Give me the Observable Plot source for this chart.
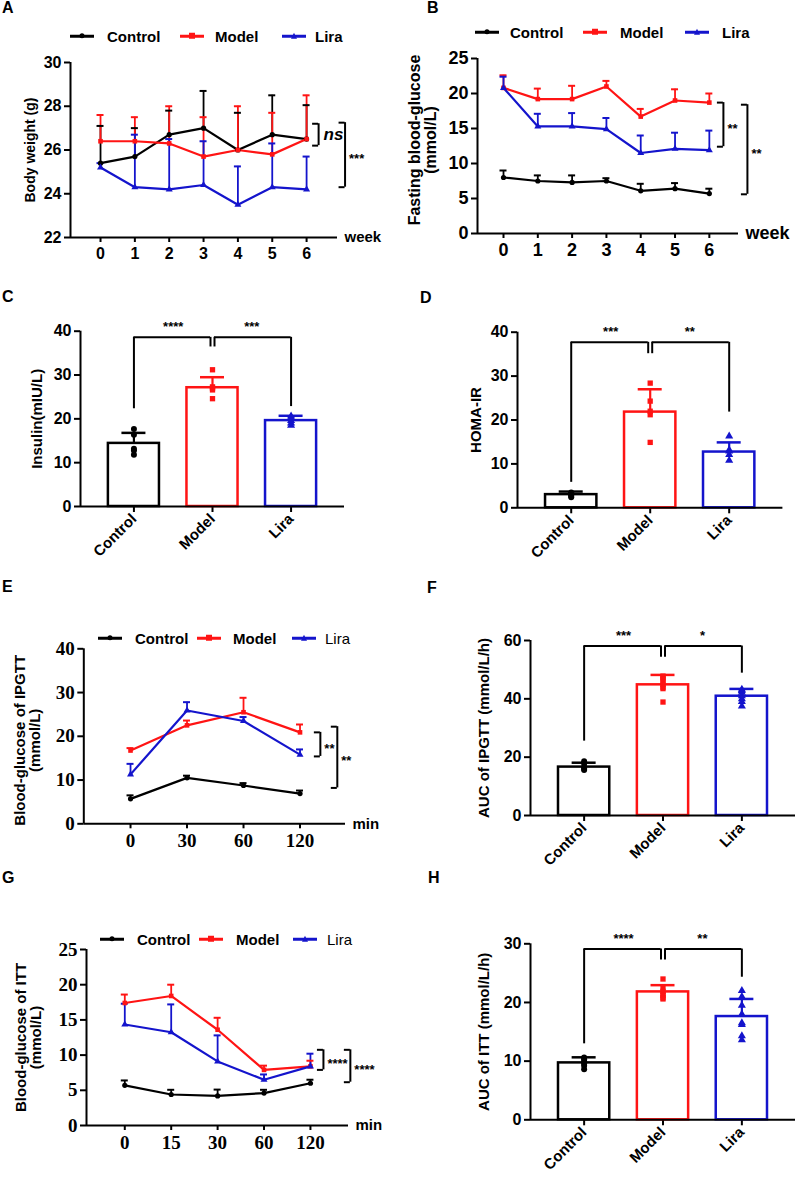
<!DOCTYPE html>
<html><head><meta charset="utf-8">
<script src="https://cdn.jsdelivr.net/npm/d3@7"></script>
<script src="https://cdn.jsdelivr.net/npm/@observablehq/plot@0.6"></script>
<style>
body{margin:0;background:#fff;}
#fig{position:relative;width:797px;height:1182px;overflow:hidden;font-family:"Liberation Sans",Arial,sans-serif;color:#000;}
.panel{position:absolute;}
.plab{position:absolute;font-weight:bold;font-size:16px;line-height:1;}
.legtxt{position:absolute;font-size:15px;line-height:1;white-space:nowrap;transform:translateY(-50%);}
.sw{position:absolute;height:2.5px;transform:translateY(-50%);}
.mk{position:absolute;left:50%;top:50%;transform:translate(-50%,-50%);}
</style></head>
<body><div id="fig"></div>
<script>
// ---------- shared ----------
const groups = ["Control", "Model", "Lira"];
const colors = ["#000000", "#ff1414", "#1414cc"];
const symbols = ["circle", "square", "triangle"];

// ---------- A: body weight ----------
const weeks = [0, 1, 2, 3, 4, 5, 6];
const weightControl = [25.4, 25.7, 26.7, 27.0, 26.0, 26.7, 26.5];
const weightControlSD = [1.7, 1.3, 1.1, 1.7, 1.7, 1.8, 1.55];
const weightModel = [26.4, 26.4, 26.3, 25.7, 26.0, 25.8, 26.5];
const weightModelSD = [1.2, 1.1, 1.7, 1.8, 2.0, 1.9, 2.0];
const weightLira = [25.2, 24.3, 24.2, 24.4, 23.5, 24.3, 24.2];
const weightLiraSD = [0.2, 2.4, 2.3, 2.0, 1.75, 2.0, 1.5];
const sigA = [
  {x: 6.35, y1: 26.2, y2: 27.2, label: "ns"},
  {x: 7.12, y1: 24.3, y2: 27.25, label: "***"}
];

// ---------- B: fasting blood glucose ----------
const fbgControl = [8.0, 7.5, 7.3, 7.5, 6.1, 6.4, 5.7];
const fbgControlSD = [1.0, 0.8, 1.0, 0.4, 1.0, 0.8, 0.7];
const fbgModel = [20.8, 19.2, 19.2, 21.0, 16.7, 19.0, 18.7];
const fbgModelSD = [1.8, 1.5, 1.9, 0.8, 1.1, 1.6, 1.3];
const fbgLira = [20.8, 15.3, 15.3, 14.9, 11.5, 12.1, 11.9];
const fbgLiraSD = [1.6, 1.8, 1.9, 1.6, 2.5, 2.3, 2.8];
const sigB = [
  {x: 6.41, y1: 12.4, y2: 18.7, label: "**"},
  {x: 7.11, y1: 5.6, y2: 18.4, label: "**"}
];

// ---------- C: insulin ----------
const insulinMean = [14.4, 27.1, 19.6];
const insulinSD = [2.4, 2.4, 1.1];
const insulinPoints = [[17.7, 16.4, 13.2, 12.8, 11.8], [31.2, 27.3, 27.0, 26.6, 24.6], [20.6, 20.2, 19.6, 19.0, 18.5]];
const sigC = [
  {from: 0, to: 1, y: 38.6, yFrom: 22.3, yTo: 36.4, label: "****"},
  {from: 1, to: 2, y: 38.6, yFrom: 36.4, yTo: 22.8, label: "***"}
];

// ---------- D: HOMA-IR ----------
const homaMean = [3.0, 21.8, 12.7];
const homaSD = [0.7, 5.2, 2.2];
const homaPoints = [[3.5, 3.3, 3.0, 2.7, 2.4], [28.4, 24.3, 22.0, 21.2, 14.9], [16.3, 13.2, 12.9, 12.1, 10.8]];
const sigD = [
  {from: 0, to: 1, y: 37.7, yFrom: 5.8, yTo: 35.1, label: "***"},
  {from: 1, to: 2, y: 37.7, yFrom: 35.1, yTo: 21.8, label: "**"}
];

// ---------- E: IPGTT ----------
const ipgttTimes = ["0", "30", "60", "120"];
const ipgttControl = [5.7, 10.5, 8.75, 6.9];
const ipgttControlSD = [0.8, 0.5, 0.55, 0.7];
const ipgttModel = [16.75, 22.5, 25.5, 20.9];
const ipgttModelSD = [0.55, 1.1, 3.3, 1.8];
const ipgttLira = [11.3, 25.9, 23.5, 15.8];
const ipgttLiraSD = [2.4, 1.9, 0.9, 1.2];
const sigE = [
  {x: 3.36, y1: 15.4, y2: 20.9, label: "**"},
  {x: 3.66, y1: 8.2, y2: 22.2, label: "**"}
];

// ---------- F: AUC IPGTT ----------
const aucIpgttMean = [16.6, 44.8, 40.9];
const aucIpgttSD = [1.5, 3.4, 2.5];
const aucIpgttPoints = [[18.6, 17.8, 16.6, 16.0, 15.6], [47.8, 47.3, 46.8, 45.8, 45.0, 44.0, 43.5, 38.9], [43.2, 42.8, 42.2, 41.0, 40.0, 39.0, 37.5]];
const sigF = [
  {from: 0, to: 1, y: 58.1, yFrom: 25.5, yTo: 54.3, label: "***"},
  {from: 1, to: 2, y: 58.1, yFrom: 54.3, yTo: 48.8, label: "*"}
];

// ---------- G: ITT ----------
const ittTimes = ["0", "15", "30", "60", "120"];
const ittControl = [5.7, 4.4, 4.2, 4.6, 6.0];
const ittControlSD = [0.7, 0.67, 0.9, 0.47, 0.5];
const ittModel = [17.4, 18.4, 13.6, 7.9, 8.4];
const ittModelSD = [1.2, 1.6, 1.7, 0.6, 0.8];
const ittLira = [14.35, 13.25, 9.1, 6.5, 8.4];
const ittLiraSD = [2.95, 3.95, 3.7, 0.75, 1.8];
const sigG = [
  {x: 4.28, y1: 7.9, y2: 10.75, label: "****"},
  {x: 4.86, y1: 6.15, y2: 10.75, label: "****"}
];

// ---------- H: AUC ITT ----------
const aucIttMean = [9.7, 21.8, 17.6];
const aucIttSD = [0.95, 1.15, 3.0];
const aucIttPoints = [[10.6, 10.3, 10.0, 9.6, 9.2, 8.6], [24.0, 22.5, 21.9, 21.5, 21.2, 20.8, 20.6], [22.0, 21.0, 19.5, 18.0, 16.5, 16.2, 14.3, 13.6]];
const sigH = [
  {from: 0, to: 1, y: 29.1, yFrom: 12.95, yTo: 27.25, label: "****"},
  {from: 1, to: 2, y: 29.1, yFrom: 27.25, yTo: 24.3, label: "**"}
];

// ================= drawing =================
const fig = document.getElementById("fig");
const SANS = "Liberation Sans, Arial, sans-serif";
const SERIF = "Liberation Serif, Times New Roman, serif";

function place(node, left, top) {
  const d = document.createElement("div");
  d.className = "panel";
  d.style.left = left + "px";
  d.style.top = top + "px";
  d.appendChild(node);
  fig.appendChild(d);
}

function seriesRows(xs, list) {
  return list.flatMap(([name, m, s]) => xs.map((x, i) => ({series: name, x, y: m[i], up: m[i] + s[i]})));
}

function linePanel(p) {
  const rows = seriesRows(p.xs, p.series);
  const br = p.sig;
  const marks = [
    Plot.ruleX([p.xDomain[0]], {stroke: "#000", strokeWidth: 2}),
    Plot.ruleY([p.yDomain[0]], {stroke: "#000", strokeWidth: 2}),
    Plot.axisY({ticks: p.yTicks, tickSize: 6, tickPadding: 3, strokeWidth: 2, fontSize: p.tickFont, fontFamily: p.tickFamily, fontWeight: "bold", label: null}),
    Plot.axisX({ticks: p.xs, tickFormat: p.xFormat, tickSize: 5, tickPadding: 5, strokeWidth: 2, fontSize: p.tickFont, fontFamily: p.tickFamily, fontWeight: "bold", label: null}),
    Plot.ruleX(rows, {x: "x", y1: "y", y2: "up", stroke: "series", strokeWidth: 1.8}),
    Plot.ruleY(rows, {y: "up", x1: "x", x2: "x", insetLeft: -3.5, insetRight: -3.5, stroke: "series", strokeWidth: 2}),
    Plot.line(rows, {x: "x", y: "y", stroke: "series", strokeWidth: 2.2}),
    Plot.dot(rows, {x: "x", y: "y", symbol: "series", fill: "series", r: 2.6}),
    // significance brackets
    Plot.ruleX(br, {x: "x", y1: "y1", y2: "y2", stroke: "#000", strokeWidth: 2}),
    Plot.ruleY(br, {y: "y1", x1: "x", x2: "x", insetLeft: -6, stroke: "#000", strokeWidth: 2}),
    Plot.ruleY(br, {y: "y2", x1: "x", x2: "x", insetLeft: -6, stroke: "#000", strokeWidth: 2}),
    Plot.text(br.filter(d => d.label !== "ns"), {x: "x", y: d => (d.y1 + d.y2) / 2, text: "label", dx: 4, dy: 4, textAnchor: "start", fontSize: 13, fontWeight: "bold"}),
    Plot.text(br.filter(d => d.label === "ns"), {x: "x", y: d => (d.y1 + d.y2) / 2, text: "label", dx: 5, dy: 0, textAnchor: "start", fontSize: 17, fontWeight: "bold", fontStyle: "italic"}),
    Plot.text([p.xUnit], {frameAnchor: "bottom-right", dx: 7, dy: 0, textAnchor: "start", lineAnchor: "middle", fontSize: p.unitFont, fontWeight: "bold", fontFamily: SANS}),
    Plot.text([p.yLabel], {frameAnchor: "left", rotate: -90, dx: p.yLabelDx, dy: p.yLabelDy || 0, textAnchor: "middle", lineAnchor: "middle", fontSize: p.yLabelFont, fontWeight: "bold", fontFamily: SANS})
  ];
  return Plot.plot({
    width: p.width, height: p.height,
    marginLeft: p.m[0], marginRight: p.m[1], marginTop: p.m[2], marginBottom: p.m[3],
    x: {type: "linear", domain: p.xDomain},
    y: {domain: p.yDomain},
    color: {domain: groups, range: colors},
    symbol: {domain: groups, range: symbols},
    style: {fontFamily: SANS, fontWeight: "bold", color: "#000", background: "transparent", overflow: "visible"},
    marks
  });
}

function barPanel(p) {
  const bars = groups.map((g, i) => ({i, group: g, mean: p.means[i], up: p.means[i] + p.sds[i]}));
  const pts = p.points.flatMap((vals, i) => vals.map(v => ({i, group: groups[i], v})));
  const s0 = p.sig.filter((d, k) => k === 0);
  const s1 = p.sig.filter((d, k) => k === 1);
  const halfW = 0.325;
  const marks = [
    Plot.axisY({ticks: p.yTicks, tickSize: 6, tickPadding: 3, strokeWidth: 2, fontSize: 16, fontWeight: "bold", label: null}),
    Plot.axisX({ticks: [0, 1, 2], tickFormat: i => groups[i], tickRotate: -45, tickSize: 6, tickPadding: 4, strokeWidth: 2, fontSize: 15, fontWeight: "bold", label: null}),
    Plot.rect(bars, {x1: d => d.i - halfW, x2: d => d.i + halfW, y1: 0, y2: "mean", fill: "white", stroke: "group", strokeWidth: 2.5}),
    Plot.ruleX(bars, {x: "i", y1: "mean", y2: "up", stroke: "group", strokeWidth: 2.2}),
    Plot.ruleY(bars, {y: "up", x1: "i", x2: "i", insetLeft: -12, insetRight: -12, stroke: "group", strokeWidth: 2.5}),
    Plot.dot(pts, {x: "i", y: "v", symbol: "group", fill: "group", r: 3}),
    Plot.ruleX([p.xDomain[0]], {stroke: "#000", strokeWidth: 2}),
    Plot.ruleY([0], {stroke: "#000", strokeWidth: 2}),
    // brackets
    Plot.ruleY(s0, {y: "y", x1: "from", x2: "to", insetRight: 2, stroke: "#000", strokeWidth: 2}),
    Plot.ruleY(s1, {y: "y", x1: "from", x2: "to", insetLeft: 2, stroke: "#000", strokeWidth: 2}),
    Plot.ruleX(s0, {x: "from", y1: "yFrom", y2: "y", stroke: "#000", strokeWidth: 2}),
    Plot.ruleX(s0, {x: "to", y1: "yTo", y2: "y", dx: -2, stroke: "#000", strokeWidth: 2}),
    Plot.ruleX(s1, {x: "from", y1: "yFrom", y2: "y", dx: 2, stroke: "#000", strokeWidth: 2}),
    Plot.ruleX(s1, {x: "to", y1: "yTo", y2: "y", stroke: "#000", strokeWidth: 2}),
    Plot.text(p.sig, {x: d => (d.from + d.to) / 2, y: "y", text: "label", dy: -6, lineAnchor: "bottom", fontSize: 13, fontWeight: "bold"}),
    Plot.text([p.yLabel], {frameAnchor: "left", rotate: -90, dx: p.yLabelDx, textAnchor: "middle", lineAnchor: "middle", fontSize: 15, fontWeight: "bold"})
  ];
  return Plot.plot({
    width: p.width, height: p.height,
    marginLeft: p.m[0], marginRight: p.m[1], marginTop: p.m[2], marginBottom: p.m[3],
    x: {type: "linear", domain: p.xDomain},
    y: {domain: p.yDomain},
    color: {domain: groups, range: colors},
    symbol: {domain: groups, range: symbols},
    style: {fontFamily: SANS, fontWeight: "bold", color: "#000", background: "transparent", overflow: "visible"},
    marks
  });
}

function legend(y, swX, txX, boldFlags) {
  groups.forEach((g, i) => {
    const sw = document.createElement("div");
    sw.className = "sw";
    sw.style.left = swX[i] + "px";
    sw.style.top = y + "px";
    sw.style.width = "24px";
    sw.style.background = colors[i];
    const mk = document.createElement("div");
    mk.className = "mk";
    if (symbols[i] === "circle") { mk.style.cssText += `width:5px;height:5px;border-radius:50%;background:${colors[i]};`; }
    else if (symbols[i] === "square") { mk.style.cssText += `width:6px;height:6px;background:${colors[i]};`; }
    else { mk.style.cssText += `width:0;height:0;border-left:3.5px solid transparent;border-right:3.5px solid transparent;border-bottom:6px solid ${colors[i]};`; }
    sw.appendChild(mk);
    fig.appendChild(sw);
    const t = document.createElement("div");
    t.className = "legtxt";
    t.style.left = txX[i] + "px";
    t.style.top = y + "px";
    t.style.fontWeight = boldFlags[i] ? "bold" : "normal";
    t.textContent = g;
    fig.appendChild(t);
  });
}

function letter(ch, x, y) {
  const d = document.createElement("div");
  d.className = "plab";
  d.style.left = x + "px";
  d.style.top = y + "px";
  d.textContent = ch;
  fig.appendChild(d);
}

// ---- A ----
place(linePanel({
  width: 400, height: 240, m: [70, 63, 17, 48],
  xs: weeks, xFormat: d => String(d), xDomain: [-0.874, 6.9],
  yDomain: [22, 30], yTicks: [22, 24, 26, 28, 30],
  series: [["Control", weightControl, weightControlSD], ["Model", weightModel, weightModelSD], ["Lira", weightLira, weightLiraSD]],
  sig: sigA, xUnit: "week", unitFont: 15, tickFont: 16, tickFamily: SANS,
  yLabel: "Body weight (g)", yLabelDx: -40, yLabelFont: 14
}), 0, 45);

// ---- B ----
place(linePanel({
  width: 397, height: 245, m: [77, 59, 18, 52],
  xs: weeks, xFormat: d => String(d), xDomain: [-0.758, 6.85],
  yDomain: [0, 25], yTicks: [0, 5, 10, 15, 20, 25],
  series: [["Control", fbgControl, fbgControlSD], ["Model", fbgModel, fbgModelSD], ["Lira", fbgLira, fbgLiraSD]],
  sig: sigB, xUnit: "week", unitFont: 18, tickFont: 18, tickFamily: SANS,
  yLabel: "Fasting blood-glucose\n(mmol/L)", yLabelDx: -55, yLabelDy: -6, yLabelFont: 16
}), 400, 40);

// ---- C ----
place(barPanel({
  width: 400, height: 285, m: [80, 56, 30.7, 79],
  xDomain: [-0.68, 2.68], yDomain: [0, 40], yTicks: [0, 10, 20, 30, 40],
  means: insulinMean, sds: insulinSD, points: insulinPoints, sig: sigC,
  yLabel: "Insulin(mIU/L)", yLabelDx: -43
}), 0, 300);

// ---- D ----
place(barPanel({
  width: 397, height: 285, m: [117, 14.6, 31.7, 77.7],
  xDomain: [-0.68, 2.68], yDomain: [0, 40], yTicks: [0, 10, 20, 30, 40],
  means: homaMean, sds: homaSD, points: homaPoints, sig: sigD,
  yLabel: "HOMA-IR", yLabelDx: -41
}), 400, 300);

// ---- E ----
place(linePanel({
  width: 400, height: 250, m: [83.3, 55, 28.3, 46.7],
  xs: [0, 1, 2, 3], xFormat: i => ipgttTimes[i], xDomain: [-0.827, 3.805],
  yDomain: [0, 40], yTicks: [0, 10, 20, 30, 40],
  series: [["Control", ipgttControl, ipgttControlSD], ["Model", ipgttModel, ipgttModelSD], ["Lira", ipgttLira, ipgttLiraSD]],
  sig: sigE, xUnit: "min", unitFont: 15, tickFont: 19, tickFamily: SERIF,
  yLabel: "Blood-glucose of IPGTT\n(mmol/L)", yLabelDx: -56, yLabelDy: 4, yLabelFont: 15
}), 0, 620);

// ---- F ----
place(barPanel({
  width: 397, height: 290, m: [130, 2, 40, 75],
  xDomain: [-0.68, 2.68], yDomain: [0, 60], yTicks: [0, 20, 40, 60],
  means: aucIpgttMean, sds: aucIpgttSD, points: aucIpgttPoints, sig: sigF,
  yLabel: "AUC of IPGTT (mmol/L/h)", yLabelDx: -46
}), 400, 600);

// ---- G ----
place(linePanel({
  width: 400, height: 272, m: [86, 52, 39, 57],
  xs: [0, 1, 2, 3, 4], xFormat: i => ittTimes[i], xDomain: [-0.825, 4.82],
  yDomain: [0, 25], yTicks: [0, 5, 10, 15, 20, 25],
  series: [["Control", ittControl, ittControlSD], ["Model", ittModel, ittModelSD], ["Lira", ittLira, ittLiraSD]],
  sig: sigG, xUnit: "min", unitFont: 15, tickFont: 19, tickFamily: SERIF,
  yLabel: "Blood-glucose of ITT\n(mmol/L)", yLabelDx: -58, yLabelFont: 15
}), 0, 910);

// ---- H ----
place(barPanel({
  width: 397, height: 282, m: [130, 2, 43.3, 62.7],
  xDomain: [-0.68, 2.68], yDomain: [0, 30], yTicks: [0, 10, 20, 30],
  means: aucIttMean, sds: aucIttSD, points: aucIttPoints, sig: sigH,
  yLabel: "AUC of ITT (mmol/L/h)", yLabelDx: -46
}), 400, 900);

// legends
legend(36, [70, 180, 282], [107, 215, 315], [true, true, true]);
legend(32, [475, 583, 685], [510, 620, 722], [true, true, true]);
legend(638, [98, 197, 292], [135, 233, 325], [true, true, false]);
legend(939, [100, 199, 293], [137, 236, 327], [true, true, false]);

// panel letters
letter("A", 2, 0);
letter("B", 427, 0);
letter("C", 2, 289);
letter("D", 420, 290);
letter("E", 2, 579);
letter("F", 427, 580);
letter("G", 2, 870);
letter("H", 428, 870);
</script></body></html>
